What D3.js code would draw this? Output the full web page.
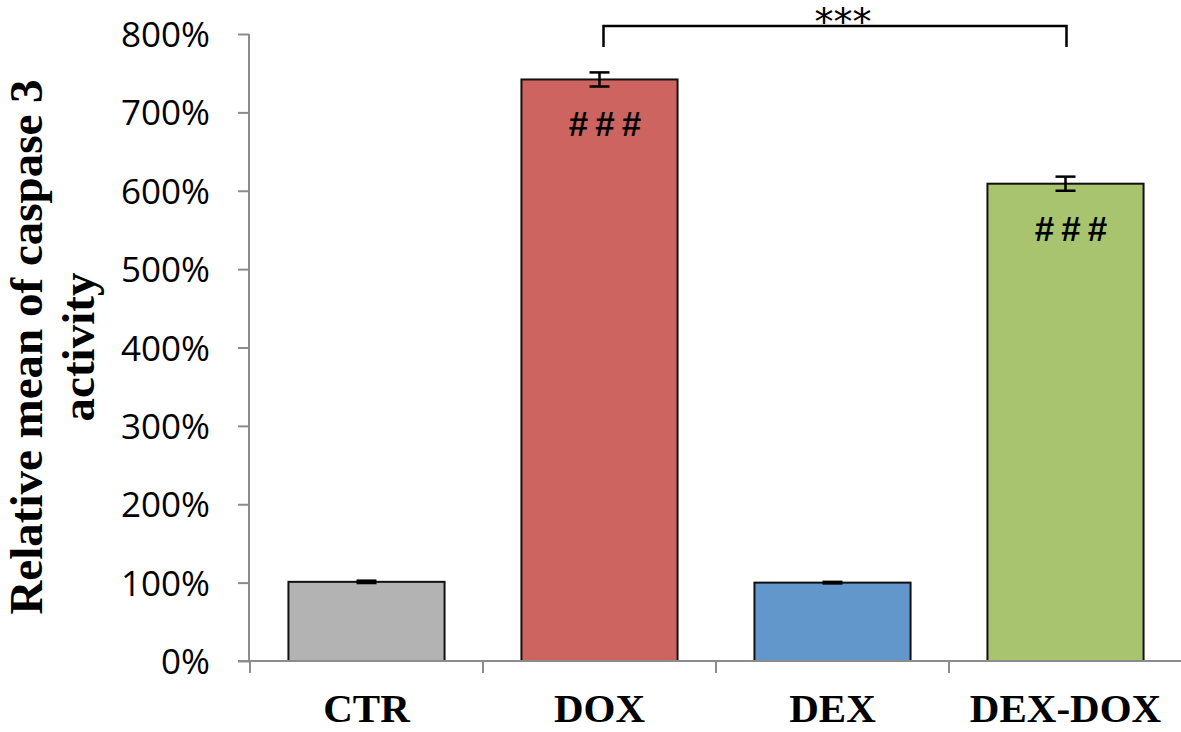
<!DOCTYPE html>
<html>
<head>
<meta charset="utf-8">
<script src="https://cdn.jsdelivr.net/npm/d3@7"></script>
<style>
  body { margin: 0; background: #fff; }
  svg { display: block; }
</style>
</head>
<body>
<svg id="chart" width="1181" height="732"></svg>
<script>
// data
const groups = ["CTR", "DOX", "DEX", "DEX-DOX"];
const means = [101, 742, 100, 609];
const errors = [1.5, 9, 1, 9];
const colors = ["#b3b3b3", "#cd6460", "#6197cb", "#a9c46e"];
const hashMarks = ["", "###", "", "###"];
const yTicks = [0, 100, 200, 300, 400, 500, 600, 700, 800];

const svg = d3.select("#chart");
const axisColor = "#8c8c8c";

let x = d3.scaleBand()
    .domain(groups)
    .range([250, 1182])
    .paddingInner(0.33)
    .paddingOuter(0.165);

let y = d3.scaleLinear()
    .domain([0, 800])
    .range([661, 34]);

// y axis
let yAxis = svg.append("g")
    .attr("transform", "translate(249,0)")
    .call(d3.axisLeft(y).tickValues(yTicks).tickSize(11).tickFormat(d => d + "%"));
yAxis.select(".domain").attr("stroke", axisColor).attr("stroke-width", 2).attr("d", "M0,34V661");
yAxis.selectAll(".tick line").attr("stroke", axisColor).attr("stroke-width", 2);
yAxis.selectAll(".tick text")
    .attr("x", -39)
    .attr("dy", "0.36em")
    .attr("fill", "#000")
    .style("font-family", "'Open Sans', sans-serif")
    .style("font-size", "35px");

// bars
svg.selectAll("rect.bar")
    .data(groups)
    .enter().append("rect")
    .attr("class", "bar")
    .attr("x", d => x(d))
    .attr("y", (d, i) => y(means[i]))
    .attr("width", x.bandwidth())
    .attr("height", (d, i) => y(0) - y(means[i]))
    .attr("fill", (d, i) => colors[i])
    .attr("stroke", "#111")
    .attr("stroke-width", 2);

// x axis (drawn over bar bottoms)
let step = x.step();
let xStart = 250;
let boundaries = d3.range(groups.length + 1).map(i => xStart + i * step);
svg.append("line")
    .attr("x1", 238).attr("x2", 1181)
    .attr("y1", y(0)).attr("y2", y(0))
    .attr("stroke", axisColor).attr("stroke-width", 2);
svg.selectAll("line.xtick")
    .data(boundaries)
    .enter().append("line")
    .attr("class", "xtick")
    .attr("x1", d => d).attr("x2", d => d)
    .attr("y1", y(0)).attr("y2", y(0) + 12)
    .attr("stroke", axisColor).attr("stroke-width", 2);

svg.selectAll("text.xlabel")
    .data(groups)
    .enter().append("text")
    .attr("class", "xlabel")
    .attr("x", d => x(d) + x.bandwidth() / 2)
    .attr("y", 722)
    .attr("text-anchor", "middle")
    .style("font-family", "'Liberation Serif', 'Times New Roman', serif")
    .style("font-weight", "bold")
    .style("font-size", "41px")
    .text(d => d);

// error bars
let err = svg.selectAll("g.err")
    .data(groups)
    .enter().append("g")
    .attr("class", "err")
    .attr("stroke", "#000")
    .attr("stroke-width", 2.5);
err.append("line")
    .attr("x1", d => x(d) + x.bandwidth() / 2)
    .attr("x2", d => x(d) + x.bandwidth() / 2)
    .attr("y1", (d, i) => y(means[i] + errors[i]))
    .attr("y2", (d, i) => y(means[i] - errors[i]));
[1, -1].forEach(s => {
    err.append("line")
        .attr("x1", d => x(d) + x.bandwidth() / 2 - 10)
        .attr("x2", d => x(d) + x.bandwidth() / 2 + 10)
        .attr("y1", (d, i) => y(means[i] + s * errors[i]))
        .attr("y2", (d, i) => y(means[i] + s * errors[i]));
});

// ### marks inside bars
svg.selectAll("text.hash")
    .data(groups)
    .enter().append("text")
    .attr("class", "hash")
    .attr("x", d => x(d) + x.bandwidth() / 2 + 9)
    .attr("y", (d, i) => y(means[i]) + 57)
    .attr("text-anchor", "middle")
    .style("font-family", "'Liberation Sans', sans-serif")
    .style("font-weight", "bold")
    .style("font-size", "35px")
    .style("letter-spacing", "7px")
    .text((d, i) => hashMarks[i]);

// significance bracket DOX vs DEX-DOX
let bx1 = x("DOX") + x.bandwidth() / 2 + 4;
let bx2 = x("DEX-DOX") + x.bandwidth() / 2 + 1;
svg.append("path")
    .attr("d", `M${bx1},47V26H${bx2}V47`)
    .attr("fill", "none")
    .attr("stroke", "#000")
    .attr("stroke-width", 2.5);
svg.append("text")
    .attr("x", (bx1 + bx2) / 2 + 8)
    .attr("y", 35)
    .attr("text-anchor", "middle")
    .style("font-family", "'DejaVu Sans', sans-serif")
    .style("font-size", "38px")
    .text("***");

// y title
let title = svg.append("text")
    .attr("transform", "translate(0,347) rotate(-90)")
    .attr("text-anchor", "middle")
    .style("font-family", "'Liberation Serif', 'Times New Roman', serif")
    .style("font-weight", "bold")
    .style("font-size", "47px");
title.append("tspan").attr("x", 0).attr("y", 42).text("Relative mean of caspase 3");
title.append("tspan").attr("x", 0).attr("y", 94).text("activity");
</script>
</body>
</html>
